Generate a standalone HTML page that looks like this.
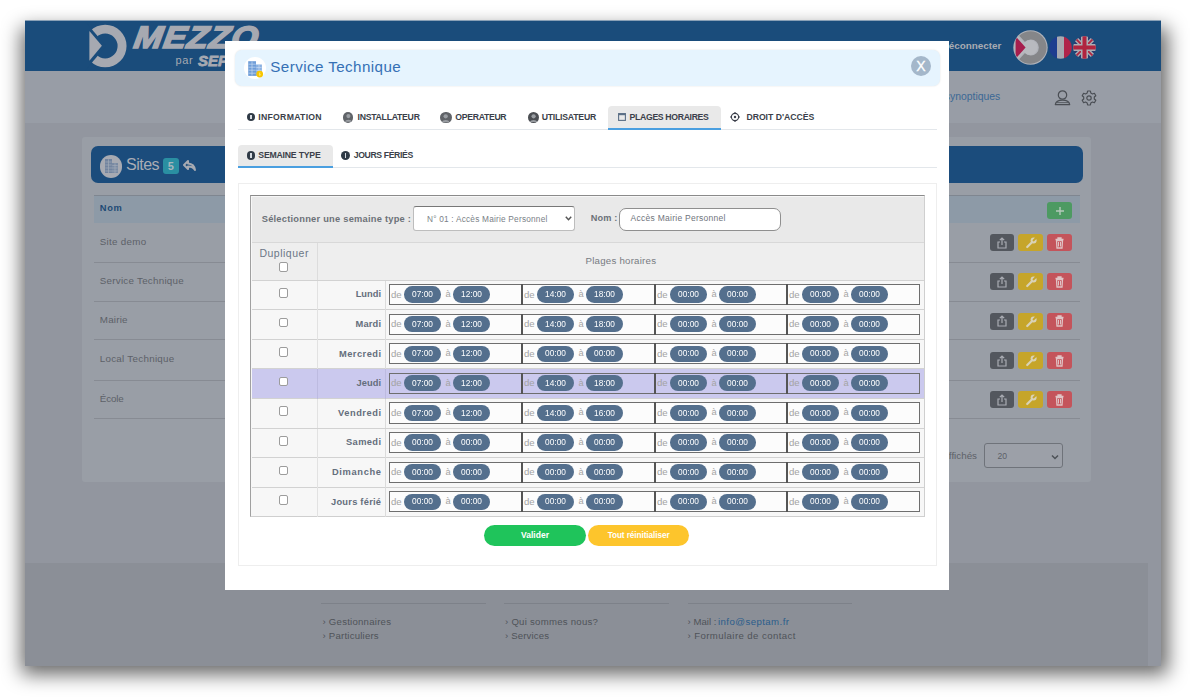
<!DOCTYPE html>
<html><head><meta charset="utf-8"><style>
html,body{margin:0;padding:0;}
body{width:1200px;height:697px;position:relative;overflow:hidden;background:#ffffff;font-family:"Liberation Sans",sans-serif;}
.r{position:absolute;}
.t{position:absolute;white-space:nowrap;}
</style></head><body>
<svg class="r" style="left:0;top:0" width="1200" height="697" viewBox="0 0 1200 697"><defs><filter id="sh" x="-10%" y="-10%" width="120%" height="120%"><feGaussianBlur stdDeviation="9.7"/></filter></defs><rect x="21.5" y="27.7" width="1146.3" height="646.6" fill="#000" fill-opacity="0.6" filter="url(#sh)"/></svg>
<div class="r" style="left:25px;top:20px;width:1136px;height:646px;background:#92969f;"></div>
<div class="r" style="left:25.00px;top:20.00px;width:1136.00px;height:51.00px;background:#1a4c7b;"></div>
<div class="r" style="left:25.00px;top:20.00px;width:1136.00px;height:1.00px;background:#8aa0b6;"></div>
<div class="r" style="left:25.00px;top:71.00px;width:1136.00px;height:52.00px;background:#989da6;"></div>
<div class="r" style="left:25.00px;top:563.00px;width:1123.00px;height:103.00px;background:#8b8f97;"></div>
<div class="r" style="left:82.00px;top:137.00px;width:1009.00px;height:344.50px;background:#999ea6;border-radius:3px;"></div>
<div class="r" style="left:91.00px;top:145.60px;width:991.50px;height:37.40px;background:#1b4c7c;border-radius:7px;"></div>
<div class="r" style="left:99.75px;top:155px;width:22.5px;height:22.5px;border-radius:50%;background:#a7aab2;"></div>
<svg class="r" style="left:105px;top:158.8px" width="13" height="14.2" viewBox="0 0 13 14.2"><rect x="0" y="0" width="7" height="14.2" fill="#72849f"/><rect x="7" y="4" width="6" height="10.2" fill="#7a8ba3"/><g stroke="#a2abb8" stroke-width="0.7"><path d="M0.3 3 H6.7 M0.3 6 H6.7 M0.3 9 H12.7 M0.3 12 H12.7 M3.5 0.3 V14 M7.3 6.5 H12.7 M10 4.3 V14"/></g></svg>
<span class="t" style="top:157.46px;font-size:16.00px;line-height:16.00px;color:#a9adb5;letter-spacing:-0.493px;left:126.00px;">Sites</span>
<div class="r" style="left:163.00px;top:157.50px;width:15.50px;height:16.50px;background:#2a8fa2;border-radius:3px;"></div>
<span class="t" style="top:160.69px;font-size:11.00px;line-height:11.00px;color:#a7b6bd;font-weight:bold;left:167.69px;">5</span>
<svg class="r" style="left:183px;top:159.5px" width="13" height="11" viewBox="0 0 13 11"><path d="M5 1 L1 5 L5 9 L5 6.5 C8.5 6.3 10.5 7.5 12 10 C11.5 6 9 3.8 5 3.5 Z" fill="none" stroke="#a7aab2" stroke-width="2" stroke-linejoin="round"/></svg>
<div class="r" style="left:93.50px;top:195.00px;width:986.50px;height:27.75px;background:#8d9aa7;border-top:1px solid #7f8690;box-sizing:border-box;"></div>
<span class="t" style="top:203.63px;font-size:9.30px;line-height:9.30px;color:#1d4a75;font-weight:bold;letter-spacing:0.667px;left:99.75px;">Nom</span>
<span class="t" style="top:236.90px;font-size:9.80px;line-height:9.80px;color:#5d6168;letter-spacing:0.297px;left:99.75px;">Site demo</span>
<div class="r" style="left:93.50px;top:262.00px;width:986.50px;height:1.00px;background:#878b93;"></div>
<div class="r" style="left:989.70px;top:234.10px;width:24.60px;height:16.80px;background:#53575e;border-radius:3px;"></div>
<div class="r" style="left:1018.00px;top:234.10px;width:25.40px;height:16.80px;background:#c6a52a;border-radius:3px;"></div>
<div class="r" style="left:1047.10px;top:234.10px;width:25.10px;height:16.80px;background:#c4545b;border-radius:3px;"></div>
<svg class="r" style="left:995.8px;top:236.50px" width="12" height="12" viewBox="0 0 12 12"><path d="M4 5 H2 V11 H10 V5 H8 M6 8 V1 M3.8 3.2 L6 1 L8.2 3.2" fill="none" stroke="#a9acb3" stroke-width="1.2"/></svg>
<svg class="r" style="left:1024.5px;top:236.00px" width="13" height="13" viewBox="0 0 13 13"><path d="M2.2 11 L7.2 6" stroke="#d9d2b6" stroke-width="2.2" stroke-linecap="round"/><circle cx="8.6" cy="4.4" r="3" fill="#d9d2b6"/><path d="M8.6 4.4 L11.5 1.5" stroke="#c6a52a" stroke-width="2" stroke-linecap="round"/></svg>
<svg class="r" style="left:1054px;top:236.50px" width="11" height="12" viewBox="0 0 11 12"><path d="M1.5 2.5 H9.5 M4 2.5 V1 H7 V2.5 M2.5 3.5 H8.5 L8 11 H3 Z" fill="none" stroke="#e0c3c5" stroke-width="1.3"/><path d="M4.5 5 V9.5 M6.5 5 V9.5" stroke="#e0c3c5" stroke-width="1"/></svg>
<span class="t" style="top:276.40px;font-size:9.80px;line-height:9.80px;color:#5d6168;letter-spacing:0.256px;left:99.75px;">Service Technique</span>
<div class="r" style="left:93.50px;top:301.00px;width:986.50px;height:1.00px;background:#878b93;"></div>
<div class="r" style="left:989.70px;top:273.40px;width:24.60px;height:16.80px;background:#53575e;border-radius:3px;"></div>
<div class="r" style="left:1018.00px;top:273.40px;width:25.40px;height:16.80px;background:#c6a52a;border-radius:3px;"></div>
<div class="r" style="left:1047.10px;top:273.40px;width:25.10px;height:16.80px;background:#c4545b;border-radius:3px;"></div>
<svg class="r" style="left:995.8px;top:275.80px" width="12" height="12" viewBox="0 0 12 12"><path d="M4 5 H2 V11 H10 V5 H8 M6 8 V1 M3.8 3.2 L6 1 L8.2 3.2" fill="none" stroke="#a9acb3" stroke-width="1.2"/></svg>
<svg class="r" style="left:1024.5px;top:275.30px" width="13" height="13" viewBox="0 0 13 13"><path d="M2.2 11 L7.2 6" stroke="#d9d2b6" stroke-width="2.2" stroke-linecap="round"/><circle cx="8.6" cy="4.4" r="3" fill="#d9d2b6"/><path d="M8.6 4.4 L11.5 1.5" stroke="#c6a52a" stroke-width="2" stroke-linecap="round"/></svg>
<svg class="r" style="left:1054px;top:275.80px" width="11" height="12" viewBox="0 0 11 12"><path d="M1.5 2.5 H9.5 M4 2.5 V1 H7 V2.5 M2.5 3.5 H8.5 L8 11 H3 Z" fill="none" stroke="#e0c3c5" stroke-width="1.3"/><path d="M4.5 5 V9.5 M6.5 5 V9.5" stroke="#e0c3c5" stroke-width="1"/></svg>
<span class="t" style="top:315.10px;font-size:9.80px;line-height:9.80px;color:#5d6168;letter-spacing:0.223px;left:99.75px;">Mairie</span>
<div class="r" style="left:93.50px;top:339.30px;width:986.50px;height:1.00px;background:#878b93;"></div>
<div class="r" style="left:989.70px;top:312.80px;width:24.60px;height:16.80px;background:#53575e;border-radius:3px;"></div>
<div class="r" style="left:1018.00px;top:312.80px;width:25.40px;height:16.80px;background:#c6a52a;border-radius:3px;"></div>
<div class="r" style="left:1047.10px;top:312.80px;width:25.10px;height:16.80px;background:#c4545b;border-radius:3px;"></div>
<svg class="r" style="left:995.8px;top:315.20px" width="12" height="12" viewBox="0 0 12 12"><path d="M4 5 H2 V11 H10 V5 H8 M6 8 V1 M3.8 3.2 L6 1 L8.2 3.2" fill="none" stroke="#a9acb3" stroke-width="1.2"/></svg>
<svg class="r" style="left:1024.5px;top:314.70px" width="13" height="13" viewBox="0 0 13 13"><path d="M2.2 11 L7.2 6" stroke="#d9d2b6" stroke-width="2.2" stroke-linecap="round"/><circle cx="8.6" cy="4.4" r="3" fill="#d9d2b6"/><path d="M8.6 4.4 L11.5 1.5" stroke="#c6a52a" stroke-width="2" stroke-linecap="round"/></svg>
<svg class="r" style="left:1054px;top:315.20px" width="11" height="12" viewBox="0 0 11 12"><path d="M1.5 2.5 H9.5 M4 2.5 V1 H7 V2.5 M2.5 3.5 H8.5 L8 11 H3 Z" fill="none" stroke="#e0c3c5" stroke-width="1.3"/><path d="M4.5 5 V9.5 M6.5 5 V9.5" stroke="#e0c3c5" stroke-width="1"/></svg>
<span class="t" style="top:354.40px;font-size:9.80px;line-height:9.80px;color:#5d6168;letter-spacing:0.275px;left:99.75px;">Local Technique</span>
<div class="r" style="left:93.50px;top:379.60px;width:986.50px;height:1.00px;background:#878b93;"></div>
<div class="r" style="left:989.70px;top:352.10px;width:24.60px;height:16.80px;background:#53575e;border-radius:3px;"></div>
<div class="r" style="left:1018.00px;top:352.10px;width:25.40px;height:16.80px;background:#c6a52a;border-radius:3px;"></div>
<div class="r" style="left:1047.10px;top:352.10px;width:25.10px;height:16.80px;background:#c4545b;border-radius:3px;"></div>
<svg class="r" style="left:995.8px;top:354.50px" width="12" height="12" viewBox="0 0 12 12"><path d="M4 5 H2 V11 H10 V5 H8 M6 8 V1 M3.8 3.2 L6 1 L8.2 3.2" fill="none" stroke="#a9acb3" stroke-width="1.2"/></svg>
<svg class="r" style="left:1024.5px;top:354.00px" width="13" height="13" viewBox="0 0 13 13"><path d="M2.2 11 L7.2 6" stroke="#d9d2b6" stroke-width="2.2" stroke-linecap="round"/><circle cx="8.6" cy="4.4" r="3" fill="#d9d2b6"/><path d="M8.6 4.4 L11.5 1.5" stroke="#c6a52a" stroke-width="2" stroke-linecap="round"/></svg>
<svg class="r" style="left:1054px;top:354.50px" width="11" height="12" viewBox="0 0 11 12"><path d="M1.5 2.5 H9.5 M4 2.5 V1 H7 V2.5 M2.5 3.5 H8.5 L8 11 H3 Z" fill="none" stroke="#e0c3c5" stroke-width="1.3"/><path d="M4.5 5 V9.5 M6.5 5 V9.5" stroke="#e0c3c5" stroke-width="1"/></svg>
<span class="t" style="top:393.60px;font-size:9.80px;line-height:9.80px;color:#5d6168;letter-spacing:-0.129px;left:99.75px;">École</span>
<div class="r" style="left:93.50px;top:418.00px;width:986.50px;height:1.00px;background:#878b93;"></div>
<div class="r" style="left:989.70px;top:391.40px;width:24.60px;height:16.80px;background:#53575e;border-radius:3px;"></div>
<div class="r" style="left:1018.00px;top:391.40px;width:25.40px;height:16.80px;background:#c6a52a;border-radius:3px;"></div>
<div class="r" style="left:1047.10px;top:391.40px;width:25.10px;height:16.80px;background:#c4545b;border-radius:3px;"></div>
<svg class="r" style="left:995.8px;top:393.80px" width="12" height="12" viewBox="0 0 12 12"><path d="M4 5 H2 V11 H10 V5 H8 M6 8 V1 M3.8 3.2 L6 1 L8.2 3.2" fill="none" stroke="#a9acb3" stroke-width="1.2"/></svg>
<svg class="r" style="left:1024.5px;top:393.30px" width="13" height="13" viewBox="0 0 13 13"><path d="M2.2 11 L7.2 6" stroke="#d9d2b6" stroke-width="2.2" stroke-linecap="round"/><circle cx="8.6" cy="4.4" r="3" fill="#d9d2b6"/><path d="M8.6 4.4 L11.5 1.5" stroke="#c6a52a" stroke-width="2" stroke-linecap="round"/></svg>
<svg class="r" style="left:1054px;top:393.80px" width="11" height="12" viewBox="0 0 11 12"><path d="M1.5 2.5 H9.5 M4 2.5 V1 H7 V2.5 M2.5 3.5 H8.5 L8 11 H3 Z" fill="none" stroke="#e0c3c5" stroke-width="1.3"/><path d="M4.5 5 V9.5 M6.5 5 V9.5" stroke="#e0c3c5" stroke-width="1"/></svg>
<div class="r" style="left:1047.00px;top:202.00px;width:25.00px;height:17.40px;background:#4d9a62;border-radius:3px;"></div>
<svg class="r" style="left:1054.5px;top:205.7px" width="10" height="10" viewBox="0 0 10 10"><path d="M5 1 V9 M1 5 H9" stroke="#b5c9bb" stroke-width="1.4"/></svg>
<span class="t" style="top:451.00px;font-size:9.80px;line-height:9.80px;color:#5d6168;left:943.40px;">affichés</span>
<div class="r" style="left:983.60px;top:443.40px;width:79.10px;height:24.90px;background:#9ca0a8;border:1px solid #6f737a;border-radius:3px;box-sizing:border-box;"></div>
<span class="t" style="top:452.22px;font-size:8.60px;line-height:8.60px;color:#5d6168;left:997.50px;">20</span>
<svg class="r" style="left:1051px;top:453.5px" width="8" height="6" viewBox="0 0 8 6"><path d="M1 1.5 L4 4.5 L7 1.5" fill="none" stroke="#4d5157" stroke-width="1.5"/></svg>
<div class="r" style="left:321.00px;top:603.00px;width:165.00px;height:1.00px;background:#7d8189;"></div>
<div class="r" style="left:504.00px;top:603.00px;width:165.00px;height:1.00px;background:#7d8189;"></div>
<div class="r" style="left:687.50px;top:603.00px;width:164.00px;height:1.00px;background:#7d8189;"></div>
<span class="t" style="top:616.87px;font-size:9.60px;line-height:9.60px;color:#4f5359;letter-spacing:0.243px;left:322.50px;">› Gestionnaires</span>
<span class="t" style="top:630.87px;font-size:9.60px;line-height:9.60px;color:#4f5359;letter-spacing:0.220px;left:322.50px;">› Particuliers</span>
<span class="t" style="top:616.87px;font-size:9.60px;line-height:9.60px;color:#4f5359;letter-spacing:0.261px;left:505.00px;">› Qui sommes nous?</span>
<span class="t" style="top:630.87px;font-size:9.60px;line-height:9.60px;color:#4f5359;letter-spacing:0.147px;left:505.00px;">› Services</span>
<span class="t" style="top:616.87px;font-size:9.60px;line-height:9.60px;color:#4f5359;letter-spacing:0.028px;left:687.50px;">› Mail :</span>
<span class="t" style="top:616.87px;font-size:9.60px;line-height:9.60px;color:#2a5d8c;letter-spacing:0.443px;left:718.00px;">info@septam.fr</span>
<span class="t" style="top:630.87px;font-size:9.60px;line-height:9.60px;color:#4f5359;letter-spacing:0.422px;left:687.50px;">› Formulaire de contact</span>
<svg class="r" style="left:85px;top:21px" width="45" height="50" viewBox="0 0 45 50">
<path fill-rule="evenodd" d="M41.55 25 A21.35 21.35 0 1 1 -1.15 25 A21.35 21.35 0 1 1 41.55 25 Z M32.6 25 A12.4 12.4 0 1 0 7.8 25 A12.4 12.4 0 1 0 32.6 25 Z" fill="#a6a9b1"/>
<path d="M-3 -3.4 L21 24.9 L-2.9 53.3 Z" fill="#1a4c7b"/>
<path d="M4.4 10 L16.9 24.7 L4.4 39.8 Z" fill="#a6a9b1"/>
</svg>
<span class="t" style="left:132px;top:21.5px;font-size:31px;line-height:31px;font-weight:bold;font-style:italic;color:#a6a9b1;letter-spacing:1px;-webkit-text-stroke:1.6px #a6a9b1;transform:scaleX(1.1) skewX(-8deg);transform-origin:0 100%;">MEZZO</span>
<span class="t" style="top:55.19px;font-size:11.00px;line-height:11.00px;color:#a6a9b1;letter-spacing:0.550px;left:175.60px;">par</span>
<span class="t" style="top:53.30px;font-size:15.00px;line-height:15.00px;color:#a6a9b1;font-weight:bold;font-style:italic;left:198.00px;-webkit-text-stroke:0.8px #a6a9b1;">SEPTAM</span>
<span class="t" style="top:39.65px;font-size:14.00px;line-height:14.00px;color:#a3a7af;left:277.00px;">Gestionnaires</span>
<span class="t" style="top:40.62px;font-size:9.90px;line-height:9.90px;color:#a8abb2;font-weight:bold;left:942.73px;">déconnecter</span>
<svg class="r" style="left:1013px;top:29.5px" width="35" height="35" viewBox="0 0 35 35">
<circle cx="17.5" cy="17.5" r="17.2" fill="#b0b3ba"/>
<path d="M6.2 5.8 A16.2 16.2 0 1 1 6.2 29.2 L12 23 A8 8 0 1 0 12 12 Z" fill="#858689"/>
<circle cx="17" cy="17.5" r="7.5" fill="#b8babf"/>
<clipPath id="mc"><circle cx="17.5" cy="17.5" r="16.6"/></clipPath><g clip-path="url(#mc)"><path d="M1.6 4.6 L14.2 17.5 L1.6 30.4" fill="none" stroke="#b8babf" stroke-width="1.6"/><path d="M2.6 6.2 L12.6 17.5 L2.6 28.8 Z" fill="#a61e4d"/></g>
</svg>
<svg class="r" style="left:1049px;top:35.5px" width="23" height="23" viewBox="0 0 23 23">
<clipPath id="fc"><circle cx="11.5" cy="11.5" r="11.3"/></clipPath>
<g clip-path="url(#fc)"><rect x="0" y="0" width="8" height="23" fill="#1e3d8f"/><rect x="8" y="0" width="7" height="23" fill="#a7a9b0"/><rect x="15" y="0" width="8" height="23" fill="#b0244a"/></g>
</svg>
<svg class="r" style="left:1073.3px;top:35.8px" width="23" height="23" viewBox="0 0 23 23">
<clipPath id="uc"><circle cx="11.5" cy="11.5" r="11.3"/></clipPath>
<g clip-path="url(#uc)"><rect width="23" height="23" fill="#2a3e72"/>
<path d="M0 0 L23 23 M23 0 L0 23" stroke="#abadb3" stroke-width="4.5"/>
<path d="M0 0 L23 23 M23 0 L0 23" stroke="#b0243f" stroke-width="1.8"/>
<rect x="8" y="0" width="7" height="23" fill="#abadb3"/><rect x="0" y="8" width="23" height="7" fill="#abadb3"/>
<rect x="9.5" y="0" width="4" height="23" fill="#b0243f"/><rect x="0" y="9.5" width="23" height="4" fill="#b0243f"/></g>
</svg>
<span class="t" style="top:91.90px;font-size:10.40px;line-height:10.40px;color:#3b6895;left:944.79px;">synoptiques</span>
<svg class="r" style="left:1053.5px;top:89.5px" width="17" height="16" viewBox="0 0 17 16">
<circle cx="8.5" cy="5" r="4.2" fill="none" stroke="#4a4e54" stroke-width="1.2"/>
<path d="M1.3 14.6 C1.8 11.3 4.6 10.1 8.5 10.1 C12.4 10.1 15.2 11.3 15.7 14.6 Z" fill="none" stroke="#4a4e54" stroke-width="1.2" stroke-linejoin="round"/>
<path d="M3 12.6 H14" stroke="#4a4e54" stroke-width="0.8"/>
</svg>
<svg class="r" style="left:1080.5px;top:89.5px" width="16" height="16" viewBox="0 0 16 16">
<path d="M6.6 1 H9.4 L9.8 3 L11.5 4 L13.4 3.3 L14.8 5.7 L13.3 7 V9 L14.8 10.3 L13.4 12.7 L11.5 12 L9.8 13 L9.4 15 H6.6 L6.2 13 L4.5 12 L2.6 12.7 L1.2 10.3 L2.7 9 V7 L1.2 5.7 L2.6 3.3 L4.5 4 L6.2 3 Z" fill="none" stroke="#4a4e54" stroke-width="1.2" stroke-linejoin="round"/>
<circle cx="8" cy="8" r="2.2" fill="none" stroke="#4a4e54" stroke-width="1.2"/>
</svg>
<div class="r" style="left:225.00px;top:41.00px;width:724.00px;height:549.00px;background:#ffffff;"></div>
<div class="r" style="left:235.00px;top:50.00px;width:705.00px;height:36.30px;background:#e6f4fe;border-radius:7px;box-shadow:0 0 2px rgba(0,0,0,0.12);"></div>
<div class="r" style="left:244px;top:57px;width:22px;height:22px;border-radius:50%;background:#ffffff;"></div>
<svg class="r" style="left:248px;top:61px" width="16" height="17" viewBox="0 0 16 17">
<rect x="0.2" y="0.2" width="7.8" height="14.7" fill="#6f9dd8"/><rect x="8" y="3.5" width="5.9" height="11.4" fill="#8ab1e2"/>
<g stroke="#c5daf2" stroke-width="0.7"><path d="M0.5 3.2 H7.7 M0.5 6.2 H7.7 M0.5 9.2 H7.7 M0.5 12.2 H7.7 M4 0.5 V14.5 M8.3 6.5 H13.6 M8.3 9.5 H13.6 M11 4 V14.5"/></g>
<circle cx="11.7" cy="13.1" r="3.4" fill="#f7c600"/><path d="M11.9 11.4 L11.3 13.4 L12.3 13.2 L11.6 15" stroke="#fff3b0" stroke-width="0.6" fill="none"/></svg>
<span class="t" style="top:59.33px;font-size:15.20px;line-height:15.20px;color:#3570b5;letter-spacing:0.410px;left:270.30px;">Service Technique</span>
<div class="r" style="left:910.8px;top:56px;width:20px;height:20px;border-radius:50%;background:#a4b7ca;"></div>
<span class="t" style="top:59.15px;font-size:14.00px;line-height:14.00px;color:#ffffff;left:916.13px;-webkit-text-stroke:0.3px #fff;">X</span>
<div class="r" style="left:238.00px;top:129.20px;width:699.00px;height:1.00px;background:#e3e7eb;"></div>
<div class="r" style="left:608.00px;top:106.00px;width:113.00px;height:24.00px;background:#e9e9e9;border-radius:4px 4px 0 0;"></div>
<div class="r" style="left:608.00px;top:128.00px;width:113.00px;height:2.00px;background:#4a9fe0;"></div>
<div class="r" style="left:246.70px;top:112.55px;width:8.50px;height:8.50px;border-radius:50%;background:#2f3a46;"></div><div class="r" style="left:250.30px;top:114.93px;width:1.3px;height:4.08px;background:#d5dae0;"></div>
<span class="t" style="top:112.84px;font-size:8.70px;line-height:8.70px;color:#3b3f4a;font-weight:bold;letter-spacing:0.267px;left:258.30px;">INFORMATION</span>
<div class="r" style="left:342.50px;top:112.10px;width:10.80px;height:10.80px;border-radius:50%;background:#606368;"></div>
<svg class="r" style="left:342.50px;top:112.10px" width="10.80" height="10.80" viewBox="0 0 10 10"><circle cx="5" cy="3.8" r="1.9" fill="#9a9ea3"/><path d="M1.8 9 C2 6.5 8 6.5 8.2 9 Z" fill="#9a9ea3"/></svg>
<span class="t" style="top:112.84px;font-size:8.70px;line-height:8.70px;color:#3b3f4a;font-weight:bold;letter-spacing:-0.264px;left:357.50px;">INSTALLATEUR</span>
<div class="r" style="left:440.30px;top:111.80px;width:11.40px;height:11.40px;border-radius:50%;background:#606368;"></div>
<svg class="r" style="left:440.30px;top:111.80px" width="11.40" height="11.40" viewBox="0 0 10 10"><circle cx="5" cy="3.8" r="1.9" fill="#9a9ea3"/><path d="M1.8 9 C2 6.5 8 6.5 8.2 9 Z" fill="#9a9ea3"/></svg>
<span class="t" style="top:112.84px;font-size:8.70px;line-height:8.70px;color:#3b3f4a;font-weight:bold;letter-spacing:-0.322px;left:455.30px;">OPERATEUR</span>
<div class="r" style="left:527.50px;top:111.90px;width:11.20px;height:11.20px;border-radius:50%;background:#4b4e53;"></div>
<svg class="r" style="left:527.50px;top:111.90px" width="11.20" height="11.20" viewBox="0 0 10 10"><circle cx="5" cy="3.8" r="1.9" fill="#9a9ea3"/><path d="M1.8 9 C2 6.5 8 6.5 8.2 9 Z" fill="#9a9ea3"/></svg>
<span class="t" style="top:112.84px;font-size:8.70px;line-height:8.70px;color:#3b3f4a;font-weight:bold;letter-spacing:-0.227px;left:541.70px;">UTILISATEUR</span>
<span class="t" style="top:112.84px;font-size:8.70px;line-height:8.70px;color:#3b3f4a;font-weight:bold;letter-spacing:-0.337px;left:629.60px;">PLAGES HORAIRES</span>
<span class="t" style="top:112.84px;font-size:8.70px;line-height:8.70px;color:#3b3f4a;font-weight:bold;letter-spacing:-0.024px;left:746.40px;">DROIT D'ACCÈS</span>
<svg class="r" style="left:617.5px;top:113px" width="8" height="8" viewBox="0 0 8 8"><rect x="0.6" y="0.6" width="6.8" height="6.8" fill="none" stroke="#5b6f86" stroke-width="1.1"/><rect x="0.6" y="0.6" width="6.8" height="1.6" fill="#5b6f86"/></svg>
<svg class="r" style="left:729.5px;top:112px" width="10" height="10" viewBox="0 0 10 10"><circle cx="5" cy="5" r="3.6" fill="none" stroke="#3b3f4a" stroke-width="1.1"/><circle cx="5" cy="5" r="1.2" fill="#3b3f4a"/><path d="M5 0 V2 M5 8 V10 M0 5 H2 M8 5 H10" stroke="#3b3f4a" stroke-width="1.1"/></svg>
<div class="r" style="left:238.00px;top:166.80px;width:699.00px;height:1.00px;background:#e3e7eb;"></div>
<div class="r" style="left:238.00px;top:144.70px;width:94.50px;height:22.00px;background:#e9e9e9;border-radius:4px 4px 0 0;"></div>
<div class="r" style="left:238.00px;top:166.30px;width:94.50px;height:2.00px;background:#4a9fe0;"></div>
<div class="r" style="left:246.70px;top:151.00px;width:8.60px;height:8.60px;border-radius:50%;background:#2f3a46;"></div><div class="r" style="left:250.35px;top:153.41px;width:1.3px;height:4.13px;background:#d5dae0;"></div>
<span class="t" style="top:151.14px;font-size:8.70px;line-height:8.70px;color:#3b3f4a;font-weight:bold;letter-spacing:-0.207px;left:258.30px;">SEMAINE TYPE</span>
<div class="r" style="left:341.00px;top:150.80px;width:9.00px;height:9.00px;border-radius:50%;background:#2f3a46;"></div><div class="r" style="left:344.85px;top:153.32px;width:1.3px;height:4.32px;background:#d5dae0;"></div>
<span class="t" style="top:151.14px;font-size:8.70px;line-height:8.70px;color:#3b3f4a;font-weight:bold;letter-spacing:-0.383px;left:353.70px;">JOURS FÉRIÉS</span>
<div class="r" style="left:238.00px;top:183.00px;width:698.50px;height:383.00px;background:#ffffff;border:1px solid #eeeeee;box-sizing:border-box;"></div>
<div class="r" style="left:484.00px;top:524.60px;width:102.00px;height:21.80px;background:#1fc45b;border-radius:11px;"></div>
<span class="t" style="top:531.30px;font-size:8.50px;line-height:8.50px;color:#ffffff;font-weight:bold;letter-spacing:0.020px;left:521.00px;">Valider</span>
<div class="r" style="left:588.00px;top:524.60px;width:101.40px;height:21.80px;background:#fdc52c;border-radius:11px;"></div>
<span class="t" style="top:531.56px;font-size:8.20px;line-height:8.20px;color:#ffffff;font-weight:bold;letter-spacing:-0.070px;left:607.70px;">Tout réinitialiser</span>
<div class="r" style="left:250.00px;top:195.00px;width:674.50px;height:322.00px;background:#f7f7f7;border:1px solid #cfcfcf;border-top:1.5px solid #8a8a8a;border-left:1.5px solid #a0a0a0;box-sizing:border-box;"></div>
<div class="r" style="left:251.50px;top:196.50px;width:672.00px;height:45.50px;background:#e9e9e9;"></div>
<div class="r" style="left:251.50px;top:241.50px;width:672.00px;height:1.00px;background:#d8d8d8;"></div>
<div class="r" style="left:251.50px;top:242.50px;width:672.00px;height:37.50px;background:#eeeeee;"></div>
<div class="r" style="left:317.20px;top:242.50px;width:1.00px;height:37.50px;background:#dcdcdc;"></div>
<div class="r" style="left:251.50px;top:279.50px;width:672.00px;height:1.00px;background:#d2d2d2;"></div>
<span class="t" style="top:214.73px;font-size:9.30px;line-height:9.30px;color:#6c7178;font-weight:bold;letter-spacing:0.239px;left:261.70px;">Sélectionner une semaine type :</span>
<div class="r" style="left:413.30px;top:206.30px;width:162.00px;height:25.00px;background:#ffffff;border:1px solid #bdbdbd;border-top:1.5px solid #777;border-radius:3px;box-sizing:border-box;"></div>
<span class="t" style="top:214.67px;font-size:8.30px;line-height:8.30px;color:#7a7f87;letter-spacing:0.203px;left:427.00px;">N° 01 : Accès Mairie Personnel</span>
<svg class="r" style="left:565px;top:216px" width="7" height="5" viewBox="0 0 7 5"><path d="M0.8 0.8 L3.5 3.7 L6.2 0.8" fill="none" stroke="#555" stroke-width="1.5"/></svg>
<span class="t" style="top:214.01px;font-size:9.20px;line-height:9.20px;color:#6c7178;font-weight:bold;letter-spacing:0.109px;left:590.80px;">Nom :</span>
<div class="r" style="left:619.00px;top:207.50px;width:162.30px;height:23.50px;background:#ffffff;border:1px solid #8f8f8f;border-radius:7px;box-sizing:border-box;"></div>
<span class="t" style="top:214.30px;font-size:8.50px;line-height:8.50px;color:#6f747c;letter-spacing:0.262px;left:630.60px;">Accès Mairie Personnel</span>
<span class="t" style="top:248.11px;font-size:10.50px;line-height:10.50px;color:#6b7686;letter-spacing:0.507px;left:259.40px;">Dupliquer</span>
<div class="r" style="left:279.40px;top:262.30px;width:9px;height:9.5px;border:1px solid #9c9c9c;border-radius:2px;background:#ffffff;box-sizing:border-box;"></div>
<span class="t" style="top:255.79px;font-size:9.70px;line-height:9.70px;color:#777b82;letter-spacing:0.236px;left:585.45px;">Plages horaires</span>
<div class="r" style="left:251.50px;top:280.50px;width:672.00px;height:29.10px;background:#f7f7f7;"></div>
<div class="r" style="left:251.50px;top:309.10px;width:672.00px;height:1.20px;background:#d2d2d2;"></div>
<div class="r" style="left:317.20px;top:280.50px;width:1.00px;height:29.60px;background:#e2e2e2;"></div>
<div class="r" style="left:385.00px;top:280.50px;width:1.00px;height:29.60px;background:#dcdcdc;"></div>
<div class="r" style="left:279.40px;top:288.00px;width:9px;height:9.5px;border:1px solid #9c9c9c;border-radius:2px;background:#ffffff;box-sizing:border-box;"></div>
<span class="t" style="top:290.43px;font-size:9.30px;line-height:9.30px;color:#646e7c;font-weight:bold;left:355.70px;">Lundi</span>
<div class="r" style="left:389.00px;top:284.00px;width:531.00px;height:21.30px;background:#fcfcfc;border:1.6px solid #6e6e6e;box-sizing:border-box;"></div>
<span class="t" style="top:289.67px;font-size:9.60px;line-height:9.60px;color:#a3a3a3;left:391.00px;">de</span>
<div class="r" style="left:404.20px;top:286.30px;width:37px;height:16.3px;border-radius:8.15px;background:#546f8d;"></div><span class="t" style="left:404.20px;top:289.20px;width:37px;text-align:center;font-size:9.8px;line-height:9.8px;color:#fff;transform:scaleX(0.85);">07:00</span>
<span class="t" style="top:289.93px;font-size:9.30px;line-height:9.30px;color:#a3a3a3;left:445.60px;">à</span>
<div class="r" style="left:452.60px;top:286.30px;width:37px;height:16.3px;border-radius:8.15px;background:#546f8d;"></div><span class="t" style="left:452.60px;top:289.20px;width:37px;text-align:center;font-size:9.8px;line-height:9.8px;color:#fff;transform:scaleX(0.85);">12:00</span>
<div class="r" style="left:521.20px;top:284.00px;width:1.80px;height:21.30px;background:#555555;"></div>
<span class="t" style="top:289.67px;font-size:9.60px;line-height:9.60px;color:#a3a3a3;left:524.00px;">de</span>
<div class="r" style="left:537.20px;top:286.30px;width:37px;height:16.3px;border-radius:8.15px;background:#546f8d;"></div><span class="t" style="left:537.20px;top:289.20px;width:37px;text-align:center;font-size:9.8px;line-height:9.8px;color:#fff;transform:scaleX(0.85);">14:00</span>
<span class="t" style="top:289.93px;font-size:9.30px;line-height:9.30px;color:#a3a3a3;left:578.60px;">à</span>
<div class="r" style="left:585.60px;top:286.30px;width:37px;height:16.3px;border-radius:8.15px;background:#546f8d;"></div><span class="t" style="left:585.60px;top:289.20px;width:37px;text-align:center;font-size:9.8px;line-height:9.8px;color:#fff;transform:scaleX(0.85);">18:00</span>
<div class="r" style="left:654.20px;top:284.00px;width:1.80px;height:21.30px;background:#555555;"></div>
<span class="t" style="top:289.67px;font-size:9.60px;line-height:9.60px;color:#a3a3a3;left:657.00px;">de</span>
<div class="r" style="left:670.20px;top:286.30px;width:37px;height:16.3px;border-radius:8.15px;background:#546f8d;"></div><span class="t" style="left:670.20px;top:289.20px;width:37px;text-align:center;font-size:9.8px;line-height:9.8px;color:#fff;transform:scaleX(0.85);">00:00</span>
<span class="t" style="top:289.93px;font-size:9.30px;line-height:9.30px;color:#a3a3a3;left:711.60px;">à</span>
<div class="r" style="left:718.60px;top:286.30px;width:37px;height:16.3px;border-radius:8.15px;background:#546f8d;"></div><span class="t" style="left:718.60px;top:289.20px;width:37px;text-align:center;font-size:9.8px;line-height:9.8px;color:#fff;transform:scaleX(0.85);">00:00</span>
<div class="r" style="left:786.20px;top:284.00px;width:1.80px;height:21.30px;background:#555555;"></div>
<span class="t" style="top:289.67px;font-size:9.60px;line-height:9.60px;color:#a3a3a3;left:789.00px;">de</span>
<div class="r" style="left:802.20px;top:286.30px;width:37px;height:16.3px;border-radius:8.15px;background:#546f8d;"></div><span class="t" style="left:802.20px;top:289.20px;width:37px;text-align:center;font-size:9.8px;line-height:9.8px;color:#fff;transform:scaleX(0.85);">00:00</span>
<span class="t" style="top:289.93px;font-size:9.30px;line-height:9.30px;color:#a3a3a3;left:843.60px;">à</span>
<div class="r" style="left:850.60px;top:286.30px;width:37px;height:16.3px;border-radius:8.15px;background:#546f8d;"></div><span class="t" style="left:850.60px;top:289.20px;width:37px;text-align:center;font-size:9.8px;line-height:9.8px;color:#fff;transform:scaleX(0.85);">00:00</span>
<div class="r" style="left:251.50px;top:310.10px;width:672.00px;height:29.10px;background:#f7f7f7;"></div>
<div class="r" style="left:251.50px;top:338.70px;width:672.00px;height:1.20px;background:#d2d2d2;"></div>
<div class="r" style="left:317.20px;top:310.10px;width:1.00px;height:29.60px;background:#e2e2e2;"></div>
<div class="r" style="left:385.00px;top:310.10px;width:1.00px;height:29.60px;background:#dcdcdc;"></div>
<div class="r" style="left:279.40px;top:317.60px;width:9px;height:9.5px;border:1px solid #9c9c9c;border-radius:2px;background:#ffffff;box-sizing:border-box;"></div>
<span class="t" style="top:320.03px;font-size:9.30px;line-height:9.30px;color:#646e7c;font-weight:bold;letter-spacing:0.174px;left:355.50px;">Mardi</span>
<div class="r" style="left:389.00px;top:313.60px;width:531.00px;height:21.30px;background:#fcfcfc;border:1.6px solid #6e6e6e;box-sizing:border-box;"></div>
<span class="t" style="top:319.27px;font-size:9.60px;line-height:9.60px;color:#a3a3a3;left:391.00px;">de</span>
<div class="r" style="left:404.20px;top:315.90px;width:37px;height:16.3px;border-radius:8.15px;background:#546f8d;"></div><span class="t" style="left:404.20px;top:318.80px;width:37px;text-align:center;font-size:9.8px;line-height:9.8px;color:#fff;transform:scaleX(0.85);">07:00</span>
<span class="t" style="top:319.53px;font-size:9.30px;line-height:9.30px;color:#a3a3a3;left:445.60px;">à</span>
<div class="r" style="left:452.60px;top:315.90px;width:37px;height:16.3px;border-radius:8.15px;background:#546f8d;"></div><span class="t" style="left:452.60px;top:318.80px;width:37px;text-align:center;font-size:9.8px;line-height:9.8px;color:#fff;transform:scaleX(0.85);">12:00</span>
<div class="r" style="left:521.20px;top:313.60px;width:1.80px;height:21.30px;background:#555555;"></div>
<span class="t" style="top:319.27px;font-size:9.60px;line-height:9.60px;color:#a3a3a3;left:524.00px;">de</span>
<div class="r" style="left:537.20px;top:315.90px;width:37px;height:16.3px;border-radius:8.15px;background:#546f8d;"></div><span class="t" style="left:537.20px;top:318.80px;width:37px;text-align:center;font-size:9.8px;line-height:9.8px;color:#fff;transform:scaleX(0.85);">14:00</span>
<span class="t" style="top:319.53px;font-size:9.30px;line-height:9.30px;color:#a3a3a3;left:578.60px;">à</span>
<div class="r" style="left:585.60px;top:315.90px;width:37px;height:16.3px;border-radius:8.15px;background:#546f8d;"></div><span class="t" style="left:585.60px;top:318.80px;width:37px;text-align:center;font-size:9.8px;line-height:9.8px;color:#fff;transform:scaleX(0.85);">18:00</span>
<div class="r" style="left:654.20px;top:313.60px;width:1.80px;height:21.30px;background:#555555;"></div>
<span class="t" style="top:319.27px;font-size:9.60px;line-height:9.60px;color:#a3a3a3;left:657.00px;">de</span>
<div class="r" style="left:670.20px;top:315.90px;width:37px;height:16.3px;border-radius:8.15px;background:#546f8d;"></div><span class="t" style="left:670.20px;top:318.80px;width:37px;text-align:center;font-size:9.8px;line-height:9.8px;color:#fff;transform:scaleX(0.85);">00:00</span>
<span class="t" style="top:319.53px;font-size:9.30px;line-height:9.30px;color:#a3a3a3;left:711.60px;">à</span>
<div class="r" style="left:718.60px;top:315.90px;width:37px;height:16.3px;border-radius:8.15px;background:#546f8d;"></div><span class="t" style="left:718.60px;top:318.80px;width:37px;text-align:center;font-size:9.8px;line-height:9.8px;color:#fff;transform:scaleX(0.85);">00:00</span>
<div class="r" style="left:786.20px;top:313.60px;width:1.80px;height:21.30px;background:#555555;"></div>
<span class="t" style="top:319.27px;font-size:9.60px;line-height:9.60px;color:#a3a3a3;left:789.00px;">de</span>
<div class="r" style="left:802.20px;top:315.90px;width:37px;height:16.3px;border-radius:8.15px;background:#546f8d;"></div><span class="t" style="left:802.20px;top:318.80px;width:37px;text-align:center;font-size:9.8px;line-height:9.8px;color:#fff;transform:scaleX(0.85);">00:00</span>
<span class="t" style="top:319.53px;font-size:9.30px;line-height:9.30px;color:#a3a3a3;left:843.60px;">à</span>
<div class="r" style="left:850.60px;top:315.90px;width:37px;height:16.3px;border-radius:8.15px;background:#546f8d;"></div><span class="t" style="left:850.60px;top:318.80px;width:37px;text-align:center;font-size:9.8px;line-height:9.8px;color:#fff;transform:scaleX(0.85);">00:00</span>
<div class="r" style="left:251.50px;top:339.70px;width:672.00px;height:29.10px;background:#f7f7f7;"></div>
<div class="r" style="left:251.50px;top:368.30px;width:672.00px;height:1.20px;background:#d2d2d2;"></div>
<div class="r" style="left:317.20px;top:339.70px;width:1.00px;height:29.60px;background:#e2e2e2;"></div>
<div class="r" style="left:385.00px;top:339.70px;width:1.00px;height:29.60px;background:#dcdcdc;"></div>
<div class="r" style="left:279.40px;top:347.20px;width:9px;height:9.5px;border:1px solid #9c9c9c;border-radius:2px;background:#ffffff;box-sizing:border-box;"></div>
<span class="t" style="top:349.63px;font-size:9.30px;line-height:9.30px;color:#646e7c;font-weight:bold;letter-spacing:0.462px;left:339.00px;">Mercredi</span>
<div class="r" style="left:389.00px;top:343.20px;width:531.00px;height:21.30px;background:#fcfcfc;border:1.6px solid #6e6e6e;box-sizing:border-box;"></div>
<span class="t" style="top:348.87px;font-size:9.60px;line-height:9.60px;color:#a3a3a3;left:391.00px;">de</span>
<div class="r" style="left:404.20px;top:345.50px;width:37px;height:16.3px;border-radius:8.15px;background:#546f8d;"></div><span class="t" style="left:404.20px;top:348.40px;width:37px;text-align:center;font-size:9.8px;line-height:9.8px;color:#fff;transform:scaleX(0.85);">07:00</span>
<span class="t" style="top:349.13px;font-size:9.30px;line-height:9.30px;color:#a3a3a3;left:445.60px;">à</span>
<div class="r" style="left:452.60px;top:345.50px;width:37px;height:16.3px;border-radius:8.15px;background:#546f8d;"></div><span class="t" style="left:452.60px;top:348.40px;width:37px;text-align:center;font-size:9.8px;line-height:9.8px;color:#fff;transform:scaleX(0.85);">12:00</span>
<div class="r" style="left:521.20px;top:343.20px;width:1.80px;height:21.30px;background:#555555;"></div>
<span class="t" style="top:348.87px;font-size:9.60px;line-height:9.60px;color:#a3a3a3;left:524.00px;">de</span>
<div class="r" style="left:537.20px;top:345.50px;width:37px;height:16.3px;border-radius:8.15px;background:#546f8d;"></div><span class="t" style="left:537.20px;top:348.40px;width:37px;text-align:center;font-size:9.8px;line-height:9.8px;color:#fff;transform:scaleX(0.85);">00:00</span>
<span class="t" style="top:349.13px;font-size:9.30px;line-height:9.30px;color:#a3a3a3;left:578.60px;">à</span>
<div class="r" style="left:585.60px;top:345.50px;width:37px;height:16.3px;border-radius:8.15px;background:#546f8d;"></div><span class="t" style="left:585.60px;top:348.40px;width:37px;text-align:center;font-size:9.8px;line-height:9.8px;color:#fff;transform:scaleX(0.85);">00:00</span>
<div class="r" style="left:654.20px;top:343.20px;width:1.80px;height:21.30px;background:#555555;"></div>
<span class="t" style="top:348.87px;font-size:9.60px;line-height:9.60px;color:#a3a3a3;left:657.00px;">de</span>
<div class="r" style="left:670.20px;top:345.50px;width:37px;height:16.3px;border-radius:8.15px;background:#546f8d;"></div><span class="t" style="left:670.20px;top:348.40px;width:37px;text-align:center;font-size:9.8px;line-height:9.8px;color:#fff;transform:scaleX(0.85);">00:00</span>
<span class="t" style="top:349.13px;font-size:9.30px;line-height:9.30px;color:#a3a3a3;left:711.60px;">à</span>
<div class="r" style="left:718.60px;top:345.50px;width:37px;height:16.3px;border-radius:8.15px;background:#546f8d;"></div><span class="t" style="left:718.60px;top:348.40px;width:37px;text-align:center;font-size:9.8px;line-height:9.8px;color:#fff;transform:scaleX(0.85);">00:00</span>
<div class="r" style="left:786.20px;top:343.20px;width:1.80px;height:21.30px;background:#555555;"></div>
<span class="t" style="top:348.87px;font-size:9.60px;line-height:9.60px;color:#a3a3a3;left:789.00px;">de</span>
<div class="r" style="left:802.20px;top:345.50px;width:37px;height:16.3px;border-radius:8.15px;background:#546f8d;"></div><span class="t" style="left:802.20px;top:348.40px;width:37px;text-align:center;font-size:9.8px;line-height:9.8px;color:#fff;transform:scaleX(0.85);">00:00</span>
<span class="t" style="top:349.13px;font-size:9.30px;line-height:9.30px;color:#a3a3a3;left:843.60px;">à</span>
<div class="r" style="left:850.60px;top:345.50px;width:37px;height:16.3px;border-radius:8.15px;background:#546f8d;"></div><span class="t" style="left:850.60px;top:348.40px;width:37px;text-align:center;font-size:9.8px;line-height:9.8px;color:#fff;transform:scaleX(0.85);">00:00</span>
<div class="r" style="left:251.50px;top:369.30px;width:672.00px;height:29.10px;background:#cbc9ee;"></div>
<div class="r" style="left:251.50px;top:397.90px;width:672.00px;height:1.20px;background:#d2d2d2;"></div>
<div class="r" style="left:317.20px;top:369.30px;width:1.00px;height:29.60px;background:#bdbbe0;"></div>
<div class="r" style="left:385.00px;top:369.30px;width:1.00px;height:29.60px;background:#bdbbe0;"></div>
<div class="r" style="left:279.40px;top:376.80px;width:9px;height:9.5px;border:1px solid #9c9c9c;border-radius:2px;background:#ffffff;box-sizing:border-box;"></div>
<span class="t" style="top:379.23px;font-size:9.30px;line-height:9.30px;color:#646e7c;font-weight:bold;letter-spacing:0.052px;left:356.50px;">Jeudi</span>
<div class="r" style="left:389.00px;top:372.80px;width:531.00px;height:21.30px;background:#cbc9ee;border:1.6px solid #6e6e6e;box-sizing:border-box;"></div>
<span class="t" style="top:378.47px;font-size:9.60px;line-height:9.60px;color:#a3a3a3;left:391.00px;">de</span>
<div class="r" style="left:404.20px;top:375.10px;width:37px;height:16.3px;border-radius:8.15px;background:#546f8d;"></div><span class="t" style="left:404.20px;top:378.00px;width:37px;text-align:center;font-size:9.8px;line-height:9.8px;color:#fff;transform:scaleX(0.85);">07:00</span>
<span class="t" style="top:378.73px;font-size:9.30px;line-height:9.30px;color:#a3a3a3;left:445.60px;">à</span>
<div class="r" style="left:452.60px;top:375.10px;width:37px;height:16.3px;border-radius:8.15px;background:#546f8d;"></div><span class="t" style="left:452.60px;top:378.00px;width:37px;text-align:center;font-size:9.8px;line-height:9.8px;color:#fff;transform:scaleX(0.85);">12:00</span>
<div class="r" style="left:521.20px;top:372.80px;width:1.80px;height:21.30px;background:#555555;"></div>
<span class="t" style="top:378.47px;font-size:9.60px;line-height:9.60px;color:#a3a3a3;left:524.00px;">de</span>
<div class="r" style="left:537.20px;top:375.10px;width:37px;height:16.3px;border-radius:8.15px;background:#546f8d;"></div><span class="t" style="left:537.20px;top:378.00px;width:37px;text-align:center;font-size:9.8px;line-height:9.8px;color:#fff;transform:scaleX(0.85);">14:00</span>
<span class="t" style="top:378.73px;font-size:9.30px;line-height:9.30px;color:#a3a3a3;left:578.60px;">à</span>
<div class="r" style="left:585.60px;top:375.10px;width:37px;height:16.3px;border-radius:8.15px;background:#546f8d;"></div><span class="t" style="left:585.60px;top:378.00px;width:37px;text-align:center;font-size:9.8px;line-height:9.8px;color:#fff;transform:scaleX(0.85);">18:00</span>
<div class="r" style="left:654.20px;top:372.80px;width:1.80px;height:21.30px;background:#555555;"></div>
<span class="t" style="top:378.47px;font-size:9.60px;line-height:9.60px;color:#a3a3a3;left:657.00px;">de</span>
<div class="r" style="left:670.20px;top:375.10px;width:37px;height:16.3px;border-radius:8.15px;background:#546f8d;"></div><span class="t" style="left:670.20px;top:378.00px;width:37px;text-align:center;font-size:9.8px;line-height:9.8px;color:#fff;transform:scaleX(0.85);">00:00</span>
<span class="t" style="top:378.73px;font-size:9.30px;line-height:9.30px;color:#a3a3a3;left:711.60px;">à</span>
<div class="r" style="left:718.60px;top:375.10px;width:37px;height:16.3px;border-radius:8.15px;background:#546f8d;"></div><span class="t" style="left:718.60px;top:378.00px;width:37px;text-align:center;font-size:9.8px;line-height:9.8px;color:#fff;transform:scaleX(0.85);">00:00</span>
<div class="r" style="left:786.20px;top:372.80px;width:1.80px;height:21.30px;background:#555555;"></div>
<span class="t" style="top:378.47px;font-size:9.60px;line-height:9.60px;color:#a3a3a3;left:789.00px;">de</span>
<div class="r" style="left:802.20px;top:375.10px;width:37px;height:16.3px;border-radius:8.15px;background:#546f8d;"></div><span class="t" style="left:802.20px;top:378.00px;width:37px;text-align:center;font-size:9.8px;line-height:9.8px;color:#fff;transform:scaleX(0.85);">00:00</span>
<span class="t" style="top:378.73px;font-size:9.30px;line-height:9.30px;color:#a3a3a3;left:843.60px;">à</span>
<div class="r" style="left:850.60px;top:375.10px;width:37px;height:16.3px;border-radius:8.15px;background:#546f8d;"></div><span class="t" style="left:850.60px;top:378.00px;width:37px;text-align:center;font-size:9.8px;line-height:9.8px;color:#fff;transform:scaleX(0.85);">00:00</span>
<div class="r" style="left:251.50px;top:398.90px;width:672.00px;height:29.10px;background:#f7f7f7;"></div>
<div class="r" style="left:251.50px;top:427.50px;width:672.00px;height:1.20px;background:#d2d2d2;"></div>
<div class="r" style="left:317.20px;top:398.90px;width:1.00px;height:29.60px;background:#e2e2e2;"></div>
<div class="r" style="left:385.00px;top:398.90px;width:1.00px;height:29.60px;background:#dcdcdc;"></div>
<div class="r" style="left:279.40px;top:406.40px;width:9px;height:9.5px;border:1px solid #9c9c9c;border-radius:2px;background:#ffffff;box-sizing:border-box;"></div>
<span class="t" style="top:408.83px;font-size:9.30px;line-height:9.30px;color:#646e7c;font-weight:bold;letter-spacing:0.531px;left:338.00px;">Vendredi</span>
<div class="r" style="left:389.00px;top:402.40px;width:531.00px;height:21.30px;background:#fcfcfc;border:1.6px solid #6e6e6e;box-sizing:border-box;"></div>
<span class="t" style="top:408.07px;font-size:9.60px;line-height:9.60px;color:#a3a3a3;left:391.00px;">de</span>
<div class="r" style="left:404.20px;top:404.70px;width:37px;height:16.3px;border-radius:8.15px;background:#546f8d;"></div><span class="t" style="left:404.20px;top:407.60px;width:37px;text-align:center;font-size:9.8px;line-height:9.8px;color:#fff;transform:scaleX(0.85);">07:00</span>
<span class="t" style="top:408.33px;font-size:9.30px;line-height:9.30px;color:#a3a3a3;left:445.60px;">à</span>
<div class="r" style="left:452.60px;top:404.70px;width:37px;height:16.3px;border-radius:8.15px;background:#546f8d;"></div><span class="t" style="left:452.60px;top:407.60px;width:37px;text-align:center;font-size:9.8px;line-height:9.8px;color:#fff;transform:scaleX(0.85);">12:00</span>
<div class="r" style="left:521.20px;top:402.40px;width:1.80px;height:21.30px;background:#555555;"></div>
<span class="t" style="top:408.07px;font-size:9.60px;line-height:9.60px;color:#a3a3a3;left:524.00px;">de</span>
<div class="r" style="left:537.20px;top:404.70px;width:37px;height:16.3px;border-radius:8.15px;background:#546f8d;"></div><span class="t" style="left:537.20px;top:407.60px;width:37px;text-align:center;font-size:9.8px;line-height:9.8px;color:#fff;transform:scaleX(0.85);">14:00</span>
<span class="t" style="top:408.33px;font-size:9.30px;line-height:9.30px;color:#a3a3a3;left:578.60px;">à</span>
<div class="r" style="left:585.60px;top:404.70px;width:37px;height:16.3px;border-radius:8.15px;background:#546f8d;"></div><span class="t" style="left:585.60px;top:407.60px;width:37px;text-align:center;font-size:9.8px;line-height:9.8px;color:#fff;transform:scaleX(0.85);">16:00</span>
<div class="r" style="left:654.20px;top:402.40px;width:1.80px;height:21.30px;background:#555555;"></div>
<span class="t" style="top:408.07px;font-size:9.60px;line-height:9.60px;color:#a3a3a3;left:657.00px;">de</span>
<div class="r" style="left:670.20px;top:404.70px;width:37px;height:16.3px;border-radius:8.15px;background:#546f8d;"></div><span class="t" style="left:670.20px;top:407.60px;width:37px;text-align:center;font-size:9.8px;line-height:9.8px;color:#fff;transform:scaleX(0.85);">00:00</span>
<span class="t" style="top:408.33px;font-size:9.30px;line-height:9.30px;color:#a3a3a3;left:711.60px;">à</span>
<div class="r" style="left:718.60px;top:404.70px;width:37px;height:16.3px;border-radius:8.15px;background:#546f8d;"></div><span class="t" style="left:718.60px;top:407.60px;width:37px;text-align:center;font-size:9.8px;line-height:9.8px;color:#fff;transform:scaleX(0.85);">00:00</span>
<div class="r" style="left:786.20px;top:402.40px;width:1.80px;height:21.30px;background:#555555;"></div>
<span class="t" style="top:408.07px;font-size:9.60px;line-height:9.60px;color:#a3a3a3;left:789.00px;">de</span>
<div class="r" style="left:802.20px;top:404.70px;width:37px;height:16.3px;border-radius:8.15px;background:#546f8d;"></div><span class="t" style="left:802.20px;top:407.60px;width:37px;text-align:center;font-size:9.8px;line-height:9.8px;color:#fff;transform:scaleX(0.85);">00:00</span>
<span class="t" style="top:408.33px;font-size:9.30px;line-height:9.30px;color:#a3a3a3;left:843.60px;">à</span>
<div class="r" style="left:850.60px;top:404.70px;width:37px;height:16.3px;border-radius:8.15px;background:#546f8d;"></div><span class="t" style="left:850.60px;top:407.60px;width:37px;text-align:center;font-size:9.8px;line-height:9.8px;color:#fff;transform:scaleX(0.85);">00:00</span>
<div class="r" style="left:251.50px;top:428.50px;width:672.00px;height:29.10px;background:#f7f7f7;"></div>
<div class="r" style="left:251.50px;top:457.10px;width:672.00px;height:1.20px;background:#d2d2d2;"></div>
<div class="r" style="left:317.20px;top:428.50px;width:1.00px;height:29.60px;background:#e2e2e2;"></div>
<div class="r" style="left:385.00px;top:428.50px;width:1.00px;height:29.60px;background:#dcdcdc;"></div>
<div class="r" style="left:279.40px;top:436.00px;width:9px;height:9.5px;border:1px solid #9c9c9c;border-radius:2px;background:#ffffff;box-sizing:border-box;"></div>
<span class="t" style="top:438.43px;font-size:9.30px;line-height:9.30px;color:#646e7c;font-weight:bold;letter-spacing:0.384px;left:346.00px;">Samedi</span>
<div class="r" style="left:389.00px;top:432.00px;width:531.00px;height:21.30px;background:#fcfcfc;border:1.6px solid #6e6e6e;box-sizing:border-box;"></div>
<span class="t" style="top:437.67px;font-size:9.60px;line-height:9.60px;color:#a3a3a3;left:391.00px;">de</span>
<div class="r" style="left:404.20px;top:434.30px;width:37px;height:16.3px;border-radius:8.15px;background:#546f8d;"></div><span class="t" style="left:404.20px;top:437.20px;width:37px;text-align:center;font-size:9.8px;line-height:9.8px;color:#fff;transform:scaleX(0.85);">00:00</span>
<span class="t" style="top:437.93px;font-size:9.30px;line-height:9.30px;color:#a3a3a3;left:445.60px;">à</span>
<div class="r" style="left:452.60px;top:434.30px;width:37px;height:16.3px;border-radius:8.15px;background:#546f8d;"></div><span class="t" style="left:452.60px;top:437.20px;width:37px;text-align:center;font-size:9.8px;line-height:9.8px;color:#fff;transform:scaleX(0.85);">00:00</span>
<div class="r" style="left:521.20px;top:432.00px;width:1.80px;height:21.30px;background:#555555;"></div>
<span class="t" style="top:437.67px;font-size:9.60px;line-height:9.60px;color:#a3a3a3;left:524.00px;">de</span>
<div class="r" style="left:537.20px;top:434.30px;width:37px;height:16.3px;border-radius:8.15px;background:#546f8d;"></div><span class="t" style="left:537.20px;top:437.20px;width:37px;text-align:center;font-size:9.8px;line-height:9.8px;color:#fff;transform:scaleX(0.85);">00:00</span>
<span class="t" style="top:437.93px;font-size:9.30px;line-height:9.30px;color:#a3a3a3;left:578.60px;">à</span>
<div class="r" style="left:585.60px;top:434.30px;width:37px;height:16.3px;border-radius:8.15px;background:#546f8d;"></div><span class="t" style="left:585.60px;top:437.20px;width:37px;text-align:center;font-size:9.8px;line-height:9.8px;color:#fff;transform:scaleX(0.85);">00:00</span>
<div class="r" style="left:654.20px;top:432.00px;width:1.80px;height:21.30px;background:#555555;"></div>
<span class="t" style="top:437.67px;font-size:9.60px;line-height:9.60px;color:#a3a3a3;left:657.00px;">de</span>
<div class="r" style="left:670.20px;top:434.30px;width:37px;height:16.3px;border-radius:8.15px;background:#546f8d;"></div><span class="t" style="left:670.20px;top:437.20px;width:37px;text-align:center;font-size:9.8px;line-height:9.8px;color:#fff;transform:scaleX(0.85);">00:00</span>
<span class="t" style="top:437.93px;font-size:9.30px;line-height:9.30px;color:#a3a3a3;left:711.60px;">à</span>
<div class="r" style="left:718.60px;top:434.30px;width:37px;height:16.3px;border-radius:8.15px;background:#546f8d;"></div><span class="t" style="left:718.60px;top:437.20px;width:37px;text-align:center;font-size:9.8px;line-height:9.8px;color:#fff;transform:scaleX(0.85);">00:00</span>
<div class="r" style="left:786.20px;top:432.00px;width:1.80px;height:21.30px;background:#555555;"></div>
<span class="t" style="top:437.67px;font-size:9.60px;line-height:9.60px;color:#a3a3a3;left:789.00px;">de</span>
<div class="r" style="left:802.20px;top:434.30px;width:37px;height:16.3px;border-radius:8.15px;background:#546f8d;"></div><span class="t" style="left:802.20px;top:437.20px;width:37px;text-align:center;font-size:9.8px;line-height:9.8px;color:#fff;transform:scaleX(0.85);">00:00</span>
<span class="t" style="top:437.93px;font-size:9.30px;line-height:9.30px;color:#a3a3a3;left:843.60px;">à</span>
<div class="r" style="left:850.60px;top:434.30px;width:37px;height:16.3px;border-radius:8.15px;background:#546f8d;"></div><span class="t" style="left:850.60px;top:437.20px;width:37px;text-align:center;font-size:9.8px;line-height:9.8px;color:#fff;transform:scaleX(0.85);">00:00</span>
<div class="r" style="left:251.50px;top:458.10px;width:672.00px;height:29.10px;background:#f7f7f7;"></div>
<div class="r" style="left:251.50px;top:486.70px;width:672.00px;height:1.20px;background:#d2d2d2;"></div>
<div class="r" style="left:317.20px;top:458.10px;width:1.00px;height:29.60px;background:#e2e2e2;"></div>
<div class="r" style="left:385.00px;top:458.10px;width:1.00px;height:29.60px;background:#dcdcdc;"></div>
<div class="r" style="left:279.40px;top:465.60px;width:9px;height:9.5px;border:1px solid #9c9c9c;border-radius:2px;background:#ffffff;box-sizing:border-box;"></div>
<span class="t" style="top:468.03px;font-size:9.30px;line-height:9.30px;color:#646e7c;font-weight:bold;letter-spacing:0.650px;left:332.00px;">Dimanche</span>
<div class="r" style="left:389.00px;top:461.60px;width:531.00px;height:21.30px;background:#fcfcfc;border:1.6px solid #6e6e6e;box-sizing:border-box;"></div>
<span class="t" style="top:467.27px;font-size:9.60px;line-height:9.60px;color:#a3a3a3;left:391.00px;">de</span>
<div class="r" style="left:404.20px;top:463.90px;width:37px;height:16.3px;border-radius:8.15px;background:#546f8d;"></div><span class="t" style="left:404.20px;top:466.80px;width:37px;text-align:center;font-size:9.8px;line-height:9.8px;color:#fff;transform:scaleX(0.85);">00:00</span>
<span class="t" style="top:467.53px;font-size:9.30px;line-height:9.30px;color:#a3a3a3;left:445.60px;">à</span>
<div class="r" style="left:452.60px;top:463.90px;width:37px;height:16.3px;border-radius:8.15px;background:#546f8d;"></div><span class="t" style="left:452.60px;top:466.80px;width:37px;text-align:center;font-size:9.8px;line-height:9.8px;color:#fff;transform:scaleX(0.85);">00:00</span>
<div class="r" style="left:521.20px;top:461.60px;width:1.80px;height:21.30px;background:#555555;"></div>
<span class="t" style="top:467.27px;font-size:9.60px;line-height:9.60px;color:#a3a3a3;left:524.00px;">de</span>
<div class="r" style="left:537.20px;top:463.90px;width:37px;height:16.3px;border-radius:8.15px;background:#546f8d;"></div><span class="t" style="left:537.20px;top:466.80px;width:37px;text-align:center;font-size:9.8px;line-height:9.8px;color:#fff;transform:scaleX(0.85);">00:00</span>
<span class="t" style="top:467.53px;font-size:9.30px;line-height:9.30px;color:#a3a3a3;left:578.60px;">à</span>
<div class="r" style="left:585.60px;top:463.90px;width:37px;height:16.3px;border-radius:8.15px;background:#546f8d;"></div><span class="t" style="left:585.60px;top:466.80px;width:37px;text-align:center;font-size:9.8px;line-height:9.8px;color:#fff;transform:scaleX(0.85);">00:00</span>
<div class="r" style="left:654.20px;top:461.60px;width:1.80px;height:21.30px;background:#555555;"></div>
<span class="t" style="top:467.27px;font-size:9.60px;line-height:9.60px;color:#a3a3a3;left:657.00px;">de</span>
<div class="r" style="left:670.20px;top:463.90px;width:37px;height:16.3px;border-radius:8.15px;background:#546f8d;"></div><span class="t" style="left:670.20px;top:466.80px;width:37px;text-align:center;font-size:9.8px;line-height:9.8px;color:#fff;transform:scaleX(0.85);">00:00</span>
<span class="t" style="top:467.53px;font-size:9.30px;line-height:9.30px;color:#a3a3a3;left:711.60px;">à</span>
<div class="r" style="left:718.60px;top:463.90px;width:37px;height:16.3px;border-radius:8.15px;background:#546f8d;"></div><span class="t" style="left:718.60px;top:466.80px;width:37px;text-align:center;font-size:9.8px;line-height:9.8px;color:#fff;transform:scaleX(0.85);">00:00</span>
<div class="r" style="left:786.20px;top:461.60px;width:1.80px;height:21.30px;background:#555555;"></div>
<span class="t" style="top:467.27px;font-size:9.60px;line-height:9.60px;color:#a3a3a3;left:789.00px;">de</span>
<div class="r" style="left:802.20px;top:463.90px;width:37px;height:16.3px;border-radius:8.15px;background:#546f8d;"></div><span class="t" style="left:802.20px;top:466.80px;width:37px;text-align:center;font-size:9.8px;line-height:9.8px;color:#fff;transform:scaleX(0.85);">00:00</span>
<span class="t" style="top:467.53px;font-size:9.30px;line-height:9.30px;color:#a3a3a3;left:843.60px;">à</span>
<div class="r" style="left:850.60px;top:463.90px;width:37px;height:16.3px;border-radius:8.15px;background:#546f8d;"></div><span class="t" style="left:850.60px;top:466.80px;width:37px;text-align:center;font-size:9.8px;line-height:9.8px;color:#fff;transform:scaleX(0.85);">00:00</span>
<div class="r" style="left:251.50px;top:487.70px;width:672.00px;height:28.30px;background:#f7f7f7;"></div>
<div class="r" style="left:317.20px;top:487.70px;width:1.00px;height:29.80px;background:#e2e2e2;"></div>
<div class="r" style="left:385.00px;top:487.70px;width:1.00px;height:29.80px;background:#dcdcdc;"></div>
<div class="r" style="left:279.40px;top:495.20px;width:9px;height:9.5px;border:1px solid #9c9c9c;border-radius:2px;background:#ffffff;box-sizing:border-box;"></div>
<span class="t" style="top:497.63px;font-size:9.30px;line-height:9.30px;color:#646e7c;font-weight:bold;letter-spacing:0.245px;left:331.00px;">Jours férié</span>
<div class="r" style="left:389.00px;top:491.20px;width:531.00px;height:21.30px;background:#fcfcfc;border:1.6px solid #6e6e6e;box-sizing:border-box;"></div>
<span class="t" style="top:496.87px;font-size:9.60px;line-height:9.60px;color:#a3a3a3;left:391.00px;">de</span>
<div class="r" style="left:404.20px;top:493.50px;width:37px;height:16.3px;border-radius:8.15px;background:#546f8d;"></div><span class="t" style="left:404.20px;top:496.40px;width:37px;text-align:center;font-size:9.8px;line-height:9.8px;color:#fff;transform:scaleX(0.85);">00:00</span>
<span class="t" style="top:497.13px;font-size:9.30px;line-height:9.30px;color:#a3a3a3;left:445.60px;">à</span>
<div class="r" style="left:452.60px;top:493.50px;width:37px;height:16.3px;border-radius:8.15px;background:#546f8d;"></div><span class="t" style="left:452.60px;top:496.40px;width:37px;text-align:center;font-size:9.8px;line-height:9.8px;color:#fff;transform:scaleX(0.85);">00:00</span>
<div class="r" style="left:521.20px;top:491.20px;width:1.80px;height:21.30px;background:#555555;"></div>
<span class="t" style="top:496.87px;font-size:9.60px;line-height:9.60px;color:#a3a3a3;left:524.00px;">de</span>
<div class="r" style="left:537.20px;top:493.50px;width:37px;height:16.3px;border-radius:8.15px;background:#546f8d;"></div><span class="t" style="left:537.20px;top:496.40px;width:37px;text-align:center;font-size:9.8px;line-height:9.8px;color:#fff;transform:scaleX(0.85);">00:00</span>
<span class="t" style="top:497.13px;font-size:9.30px;line-height:9.30px;color:#a3a3a3;left:578.60px;">à</span>
<div class="r" style="left:585.60px;top:493.50px;width:37px;height:16.3px;border-radius:8.15px;background:#546f8d;"></div><span class="t" style="left:585.60px;top:496.40px;width:37px;text-align:center;font-size:9.8px;line-height:9.8px;color:#fff;transform:scaleX(0.85);">00:00</span>
<div class="r" style="left:654.20px;top:491.20px;width:1.80px;height:21.30px;background:#555555;"></div>
<span class="t" style="top:496.87px;font-size:9.60px;line-height:9.60px;color:#a3a3a3;left:657.00px;">de</span>
<div class="r" style="left:670.20px;top:493.50px;width:37px;height:16.3px;border-radius:8.15px;background:#546f8d;"></div><span class="t" style="left:670.20px;top:496.40px;width:37px;text-align:center;font-size:9.8px;line-height:9.8px;color:#fff;transform:scaleX(0.85);">00:00</span>
<span class="t" style="top:497.13px;font-size:9.30px;line-height:9.30px;color:#a3a3a3;left:711.60px;">à</span>
<div class="r" style="left:718.60px;top:493.50px;width:37px;height:16.3px;border-radius:8.15px;background:#546f8d;"></div><span class="t" style="left:718.60px;top:496.40px;width:37px;text-align:center;font-size:9.8px;line-height:9.8px;color:#fff;transform:scaleX(0.85);">00:00</span>
<div class="r" style="left:786.20px;top:491.20px;width:1.80px;height:21.30px;background:#555555;"></div>
<span class="t" style="top:496.87px;font-size:9.60px;line-height:9.60px;color:#a3a3a3;left:789.00px;">de</span>
<div class="r" style="left:802.20px;top:493.50px;width:37px;height:16.3px;border-radius:8.15px;background:#546f8d;"></div><span class="t" style="left:802.20px;top:496.40px;width:37px;text-align:center;font-size:9.8px;line-height:9.8px;color:#fff;transform:scaleX(0.85);">00:00</span>
<span class="t" style="top:497.13px;font-size:9.30px;line-height:9.30px;color:#a3a3a3;left:843.60px;">à</span>
<div class="r" style="left:850.60px;top:493.50px;width:37px;height:16.3px;border-radius:8.15px;background:#546f8d;"></div><span class="t" style="left:850.60px;top:496.40px;width:37px;text-align:center;font-size:9.8px;line-height:9.8px;color:#fff;transform:scaleX(0.85);">00:00</span>
</body></html>
